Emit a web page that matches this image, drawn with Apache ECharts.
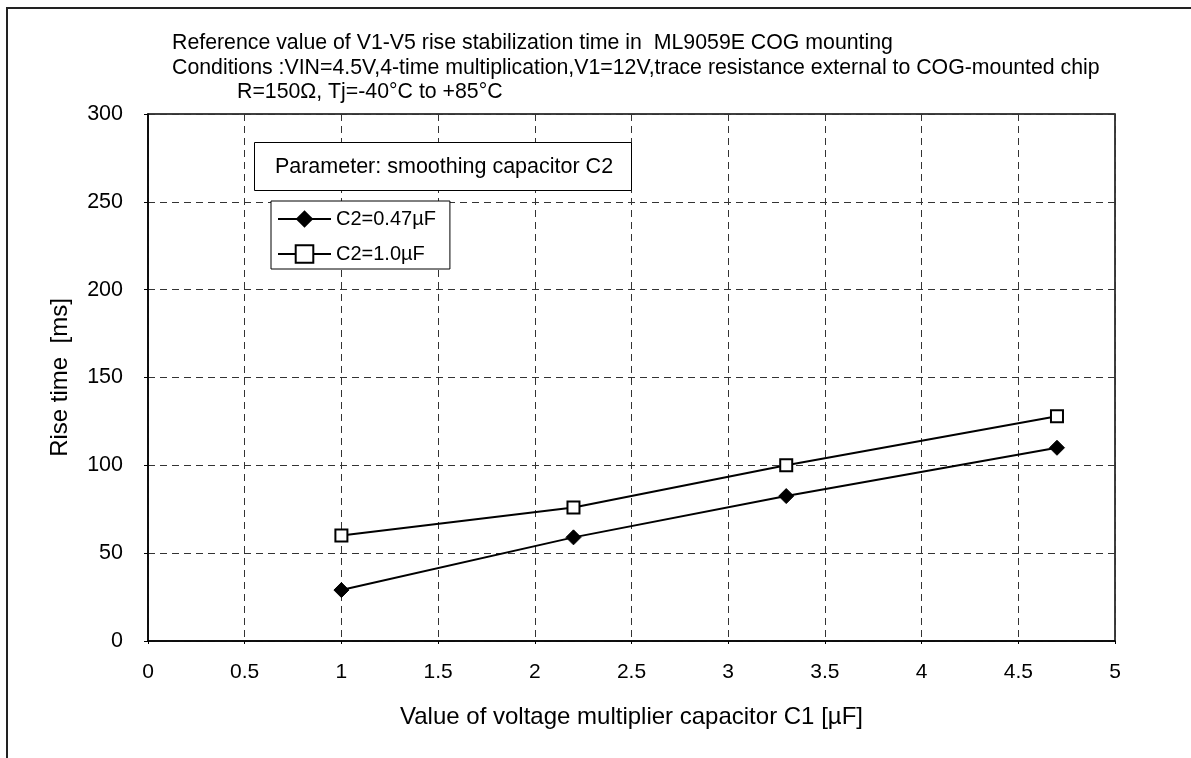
<!DOCTYPE html>
<html>
<head>
<meta charset="utf-8">
<script src="https://cdn.jsdelivr.net/npm/echarts@6/dist/echarts.min.js"></script>
<style>html,body{margin:0;padding:0;background:#fff}#c{width:1191px;height:758px}</style>
</head>
<body>
<div id="c"></div>
<script>
const xValues = [1, 2.2, 3.3, 4.7];
const seriesA = [29, 59, 82.5, 110];
const seriesB = [60, 76, 100, 128];
const seriesNames = ['C2=0.47µF', 'C2=1.0µF'];
const titleLines = [
  'Reference value of V1-V5 rise stabilization time in  ML9059E COG mounting',
  'Conditions :VIN=4.5V,4-time multiplication,V1=12V,trace resistance external to COG-mounted chip',
  'R=150Ω, Tj=-40°C to +85°C'
];
const paramText = 'Parameter: smoothing capacitor C2';
const xName = 'Value of voltage multiplier capacitor C1 [µF]';
const yName = 'Rise time  [ms]';

const FONT = 'Liberation Sans, Arial, sans-serif';
const chart = echarts.init(document.getElementById('c'), null, {renderer: 'canvas'});
const pair = (xs, ys) => xs.map((x, i) => [x, ys[i]]);
const tstyle = {fontSize: 21.3, fontWeight: 'normal', color: '#000', fontFamily: FONT};

chart.setOption({
  animation: false,
  backgroundColor: '#fff',
  textStyle: {fontFamily: FONT, color: '#000'},
  title: [
    {text: titleLines[0], left: 172, top: 33, textStyle: tstyle, padding: 0},
    {text: titleLines[1], left: 172, top: 58, textStyle: tstyle, padding: 0},
    {text: titleLines[2], left: 237, top: 82, textStyle: tstyle, padding: 0}
  ],
  grid: {left: 148, right: 76, top: 114, bottom: 117, show: true, borderColor: '#000', borderWidth: 1.5, containLabel: false},
  xAxis: {
    type: 'value', min: 0, max: 5, interval: 0.5,
    name: xName, nameLocation: 'middle', nameGap: 64,
    nameTextStyle: {fontSize: 24, color: '#000', fontFamily: FONT},
    axisLine: {show: true, onZero: false, lineStyle: {color: '#000', width: 1.5}},
    axisTick: {show: true, length: 3, lineStyle: {color: '#000'}},
    axisLabel: {fontSize: 21, color: '#000', margin: 21, fontFamily: FONT},
    splitLine: {show: true, lineStyle: {color: '#333', type: [7, 5], width: 1}}
  },
  yAxis: {
    type: 'value', min: 0, max: 300, interval: 50,
    name: yName, nameLocation: 'middle', nameGap: 76, nameRotate: 90,
    nameTextStyle: {fontSize: 24, color: '#000', fontFamily: FONT},
    axisLine: {show: true, lineStyle: {color: '#000', width: 1.5}},
    axisTick: {show: true, length: 4, lineStyle: {color: '#000'}},
    axisLabel: {fontSize: 21.5, color: '#000', margin: 25, fontFamily: FONT},
    splitLine: {show: true, lineStyle: {color: '#333', type: [7, 5], width: 1}}
  },
  legend: {
    orient: 'vertical', left: 271, top: 201,
    backgroundColor: '#fff', borderColor: '#000', borderWidth: 1,
    padding: [8, 14, 5, 6], itemGap: 15, itemWidth: 53, itemHeight: 22,
    textStyle: {fontSize: 20, color: '#000', fontFamily: FONT},
    data: seriesNames
  },
  series: [
    {
      name: seriesNames[0], type: 'line', data: pair(xValues, seriesA),
      symbol: 'diamond', symbolSize: 15,
      lineStyle: {color: '#000', width: 2},
      itemStyle: {color: '#000', borderColor: '#000'}, z: 3
    },
    {
      name: seriesNames[1], type: 'line', data: pair(xValues, seriesB),
      symbol: 'rect', symbolSize: 12,
      lineStyle: {color: '#000', width: 2},
      itemStyle: {color: '#fff', borderColor: '#000', borderWidth: 2}, z: 3
    }
  ],
  graphic: [
    {type: 'rect', shape: {x: 7, y: 8, width: 1300, height: 900}, style: {fill: 'none', stroke: '#222', lineWidth: 2}, silent: true, z: 100},
    {type: 'rect', shape: {x: 254.5, y: 142.5, width: 377, height: 48}, style: {fill: '#fff', stroke: '#000', lineWidth: 1}, z: 50},
    {type: 'text', x: 444, y: 167, style: {text: paramText, fontSize: 21.5, fontFamily: FONT, fill: '#000', align: 'center', verticalAlign: 'middle'}, z: 51}
  ]
});
</script>
</body>
</html>
